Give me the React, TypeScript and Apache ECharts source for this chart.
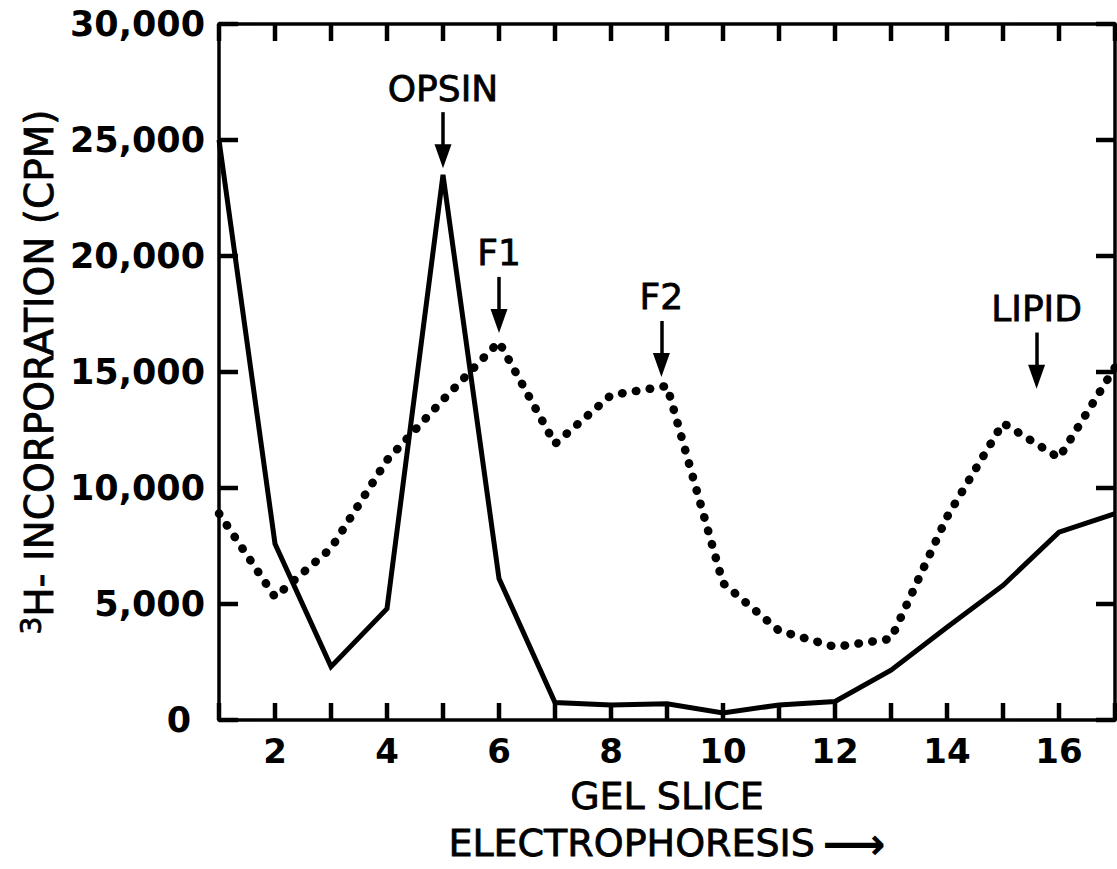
import React, { useEffect, useRef } from "react";
import * as echarts from "echarts";

// ---- data ----
const gelSlices = [1, 2, 3, 4, 5, 6, 7, 8, 9, 10, 11, 12, 13, 14, 15, 16, 17];
// solid trace (3H incorporation, CPM)
const solidCpm = [25000, 7600, 2300, 4800, 23500, 6100, 750, 650, 700, 300, 650, 800, 2150, 4000, 5800, 8100, 8900];
// dotted trace (3H incorporation, CPM)
const dottedCpm = [8900, 5300, 7400, 11200, 13800, 16300, 11900, 14000, 14400, 5900, 3850, 3150, 3500, 8750, 12800, 11300, 15200];
// peak annotations
const peakLabels = ["OPSIN", "F1", "F2", "LIPID"];
const peakSlice = [5, 6, 8.9, 15.6];
const arrowFromCpm = [26200, 19100, 17200, 16700];
const arrowToCpm = [24300, 17200, 15300, 14800];
// axis ranges / ticks
const xMin = 1;
const xMax = 17;
const xStep = 1;
const yMin = 0;
const yMax = 30000;
const yStep = 5000;
const xTickValues = [1, 2, 3, 4, 5, 6, 7, 8, 9, 10, 11, 12, 13, 14, 15, 16, 17];
const yTickValues = [0, 5000, 10000, 15000, 20000, 25000, 30000];
const yTitle = "H- INCORPORATION (CPM)";
const yTitleSup = "3";
const xTitle = "GEL SLICE";
const xSubtitle = "ELECTROPHORESIS";

const FONT = "DejaVu Sans";

export default function App() {
  const ref = useRef<HTMLDivElement>(null);

  useEffect(() => {
    if (!ref.current) return;
    const chart = echarts.init(ref.current, undefined, { renderer: "svg" });

    const mkLine = () => ({ show: true, onZero: false, lineStyle: { color: "#000", width: 3.5, type: "solid" } });

    const option: any = {
      animation: false,
      backgroundColor: "#fff",
      textStyle: { fontFamily: FONT, color: "#000" },
      grid: { left: 219, right: 2, top: 24, bottom: 149, containLabel: false, outerBoundsMode: "none" },
      xAxis: [
        {
          type: "value",
          position: "bottom",
          min: xMin,
          max: xMax,
          interval: xStep,
          axisLine: mkLine(),
          axisTick: { show: false },
          splitLine: { show: false },
          axisLabel: {
            show: true,
            margin: 14,
            fontSize: 34,
            fontWeight: "bold",
            fontFamily: FONT,
            color: "#000",
            formatter: (v: number) => (v % 2 === 0 ? String(v) : ""),
          },
          name: `{a|${xTitle}}\n{b|${xSubtitle}}  {c|⟶}`,
          nameLocation: "middle",
          nameGap: 52,
          nameTextStyle: {
            color: "#000",
            lineHeight: 47,
            rich: {
              a: { fontSize: 38, fontFamily: FONT, color: "#000", lineHeight: 47, textBorderColor: "#000", textBorderWidth: 0.8 },
              b: { fontSize: 38, fontFamily: FONT, color: "#000", lineHeight: 47, textBorderColor: "#000", textBorderWidth: 0.8 },
              c: { fontSize: 44, fontFamily: FONT, fontWeight: "bold", color: "#000", lineHeight: 47 },
            },
          },
        },
        {
          type: "value",
          position: "top",
          min: xMin,
          max: xMax,
          interval: xStep,
          axisLine: mkLine(),
          axisTick: { show: false },
          axisLabel: { show: false },
          splitLine: { show: false },
        },
      ],
      yAxis: [
        {
          type: "value",
          position: "left",
          min: yMin,
          max: yMax,
          interval: yStep,
          axisLine: mkLine(),
          axisTick: { show: false },
          splitLine: { show: false },
          axisLabel: {
            show: true,
            margin: 14,
            fontSize: 35,
            fontWeight: "bold",
            fontFamily: FONT,
            color: "#000",
            formatter: (v: number) => (v === 0 ? "{z|0}" : v.toLocaleString("en-US")),
            rich: {
              z: { fontSize: 35, fontWeight: "bold", fontFamily: FONT, color: "#000", padding: [0, 14, 0, 0] },
            },
          },
          name: `{s|${yTitleSup}}{m|${yTitle}}`,
          nameLocation: "middle",
          nameRotate: 90,
          nameGap: 152,
          nameTextStyle: {
            color: "#000",
            rich: {
              s: { fontSize: 28, fontFamily: FONT, color: "#000", padding: [0, 0, 16, 0], textBorderColor: "#000", textBorderWidth: 0.8 },
              m: { fontSize: 39, fontFamily: FONT, color: "#000", textBorderColor: "#000", textBorderWidth: 0.8 },
            },
          },
        },
        {
          type: "value",
          position: "right",
          min: yMin,
          max: yMax,
          interval: yStep,
          axisLine: mkLine(),
          axisTick: { show: false },
          axisLabel: { show: false },
          splitLine: { show: false },
        },
      ],
      series: [
        {
          name: "solid",
          type: "line",
          xAxisIndex: 0,
          yAxisIndex: 0,
          data: gelSlices.map((s, i) => [s, solidCpm[i]]),
          showSymbol: false,
          lineStyle: { color: "#000", width: 5, join: "miter" },
          z: 3,
          markLine: {
            silent: true,
            animation: false,
            symbol: ["none", "triangle"],
            symbolSize: [17, 24],
            lineStyle: { color: "#000", width: 3.5, type: "solid" },
            label: {
              show: true,
              position: "start",
              distance: 6,
              formatter: "{b}",
              fontSize: 36,
              fontFamily: FONT,
              color: "#000",
              textBorderColor: "#000",
              textBorderWidth: 0.8,
            },
            data: peakLabels.map((name, i) => [
              { name, coord: [peakSlice[i], arrowFromCpm[i]] },
              { coord: [peakSlice[i], arrowToCpm[i]] },
            ]),
          },
        },
        {
          name: "dotted",
          type: "line",
          xAxisIndex: 0,
          yAxisIndex: 0,
          data: gelSlices.map((s, i) => [s, dottedCpm[i]]),
          showSymbol: false,
          lineStyle: { color: "#000", width: 8.5, type: [0.5, 13.5], cap: "round", join: "round" },
          z: 2,
        },
      ],
    };

    chart.setOption(option);

    // inward tick marks on all four sides, placed through the chart's own scales
    const toPx = (x: number, y: number) => chart.convertToPixel({ gridIndex: 0 }, [x, y]) as number[];
    const tickStyle = { stroke: "#000", lineWidth: 4.5, fill: "none" };
    const xLen = 17;
    const yLen = 19;
    const ticks: any[] = [];
    xTickValues.forEach((v) => {
      const b = toPx(v, yMin);
      const t = toPx(v, yMax);
      ticks.push({ type: "line", z: 100, shape: { x1: b[0], y1: b[1], x2: b[0], y2: b[1] - xLen }, style: tickStyle });
      ticks.push({ type: "line", z: 100, shape: { x1: t[0], y1: t[1], x2: t[0], y2: t[1] + xLen }, style: tickStyle });
    });
    yTickValues.forEach((v) => {
      const l = toPx(xMin, v);
      const r = toPx(xMax, v);
      ticks.push({ type: "line", z: 100, shape: { x1: l[0], y1: l[1], x2: l[0] + yLen, y2: l[1] }, style: tickStyle });
      ticks.push({ type: "line", z: 100, shape: { x1: r[0], y1: r[1], x2: r[0] - yLen, y2: r[1] }, style: tickStyle });
    });
    chart.setOption({ graphic: { elements: ticks } });

    return () => chart.dispose();
  }, []);

  return (
    <div
      ref={ref}
      style={{ position: "fixed", left: 0, top: 0, width: 1117, height: 869, background: "#fff" }}
    />
  );
}
